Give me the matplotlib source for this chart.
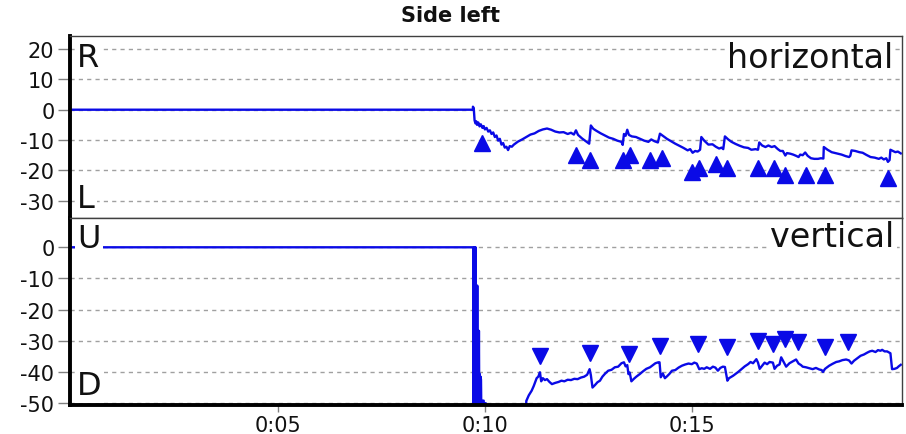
import matplotlib
matplotlib.use("Agg")
import matplotlib.pyplot as plt
from matplotlib.ticker import FixedLocator, FuncFormatter

# ---------------- data ----------------
title = "Side left"
x_ticks = [5, 10, 15]
top_yticks = [20, 10, 0, -10, -20, -30]
bot_yticks = [0, -10, -20, -30, -40, -50]

# horizontal trace (time in minutes, value)
h_t = [0, 9.71, 9.71, 9.73, 9.75, 9.77, 9.79, 9.81, 9.84, 9.87, 9.90, 9.94, 9.97, 10.00,
       10.04, 10.08, 10.12, 10.16, 10.20, 10.24, 10.28, 10.32, 10.36, 10.40, 10.44, 10.48,
       10.52, 10.56, 10.60, 10.65, 10.70, 10.80, 10.90, 11.00, 11.10, 11.20, 11.30, 11.40,
       11.50, 11.60, 11.70, 11.80, 11.90, 12.00, 12.08, 12.15, 12.20, 12.25, 12.35, 12.45,
       12.52, 12.56, 12.62, 12.70, 12.80, 12.90, 13.00, 13.10, 13.20, 13.30, 13.33, 13.36,
       13.40, 13.44, 13.48, 13.55, 13.65, 13.75, 13.85, 13.95, 14.02, 14.10, 14.18, 14.23,
       14.30, 14.40, 14.50, 14.60, 14.70, 14.80, 14.90, 14.96, 15.02, 15.08, 15.14, 15.20,
       15.23, 15.30, 15.40, 15.50, 15.58, 15.66, 15.72, 15.76, 15.80, 15.88, 15.96, 16.06,
       16.16, 16.26, 16.36, 16.44, 16.54, 16.60, 16.63, 16.70, 16.78, 16.85, 16.93, 17.00,
       17.08, 17.14, 17.20, 17.26, 17.30, 17.38, 17.45, 17.52, 17.58, 17.62, 17.68, 17.74,
       17.80, 17.88, 17.96, 18.05, 18.12, 18.18, 18.19, 18.28, 18.38, 18.50, 18.62, 18.72,
       18.80, 18.83, 18.86, 18.95, 19.05, 19.13, 19.22, 19.32, 19.42, 19.52, 19.58, 19.64,
       19.70, 19.74, 19.78, 19.80, 19.86, 19.92, 19.98, 20.05]
h_v = [0, 0, 1.0, 0.5, -3.5, -4.5, -3.8, -5.0, -4.2, -5.5, -4.8, -6.0, -5.4, -6.5,
       -6.0, -7.2, -6.8, -8.0, -7.5, -9.0, -8.5, -10.2, -9.6, -11.5, -11.0, -12.5,
       -12.2, -13.3, -12.0, -12.2, -11.5, -10.5, -9.8, -9.0, -8.2, -7.8, -7.0, -6.5,
       -6.2, -6.6, -7.2, -7.5, -7.4, -8.0, -7.6, -8.2, -6.8, -8.3, -9.5, -10.5,
       -11.2, -5.2, -6.3, -7.0, -7.8, -8.5, -9.2, -9.6, -10.2, -10.6, -11.6, -8.0,
       -8.6, -6.6, -8.3, -8.8, -9.0, -9.6, -10.2, -10.6, -9.8, -10.4, -10.8, -7.9,
       -8.6, -9.6, -10.4, -11.2, -11.9, -12.6, -13.4, -13.0, -14.2, -13.6, -13.8, -13.2,
       -9.0, -10.2, -11.5, -11.4, -12.2, -12.8, -12.5, -13.0, -8.8, -9.8, -10.6, -11.3,
       -11.9, -12.4, -12.6, -13.2, -13.0, -13.2, -10.8, -11.8, -12.3, -11.8, -12.3, -12.0,
       -13.0, -13.6, -13.6, -15.1, -14.3, -14.5, -14.8, -15.2, -15.6, -14.8, -15.0, -14.1,
       -15.2, -16.0, -16.2, -16.2, -16.0, -16.1, -12.3, -13.2, -14.0, -14.4, -14.8, -15.3,
       -15.6, -15.2, -13.4, -13.6, -14.0, -14.2, -14.9, -15.6, -15.8, -16.2, -15.8, -16.4,
       -16.0, -17.2, -16.6, -13.2, -13.6, -14.0, -13.8, -14.4]

# horizontal event markers
h_mark_t = [9.92, 12.20, 12.54, 13.34, 13.50, 13.99, 14.27, 15.00, 15.18, 15.58, 15.84,
            16.60, 16.99, 17.25, 17.75, 18.21, 19.74]
h_mark_v = [-11.0, -14.9, -16.5, -16.7, -15.0, -16.5, -16.0, -20.4, -19.2, -17.9, -19.1,
            -19.1, -19.1, -21.5, -21.5, -21.5, -22.5]

# vertical trace
v_t = [0, 9.72, 9.72, 9.735, 9.745, 9.755, 9.765, 9.775, 9.785, 9.795, 9.805, 9.815,
       9.825, 9.835, 9.845, 9.855, 9.865, 9.875, 9.885, 9.895, 9.905, 9.915, 9.95, 9.97,
       9.99, 10.02, 10.04, 10.99,
       11.00, 11.06, 11.13, 11.18, 11.21, 11.25, 11.29, 11.33, 11.36, 11.40, 11.45, 11.50,
       11.56, 11.62, 11.70, 11.78, 11.85, 11.92, 12.00, 12.08, 12.16, 12.24, 12.32, 12.40,
       12.47, 12.53, 12.56, 12.60, 12.66, 12.72, 12.78, 12.84, 12.90, 12.98, 13.06, 13.14,
       13.22, 13.30, 13.36, 13.40, 13.44, 13.47, 13.50, 13.54, 13.60, 13.66, 13.74, 13.82,
       13.90, 13.99, 14.06, 14.12, 14.19, 14.22, 14.25, 14.30, 14.35, 14.40, 14.46, 14.52,
       14.60, 14.68, 14.76, 14.84, 14.92, 15.00, 15.06, 15.12, 15.18, 15.24, 15.30, 15.36,
       15.44, 15.51, 15.57, 15.63, 15.69, 15.75, 15.80, 15.86, 15.90, 15.95, 16.00, 16.06,
       16.12, 16.20, 16.28, 16.36, 16.42, 16.48, 16.56, 16.60, 16.64, 16.70, 16.76, 16.82,
       16.88, 16.96, 17.00, 17.06, 17.12, 17.16, 17.22, 17.28, 17.36, 17.44, 17.52, 17.58,
       17.64, 17.68, 17.76, 17.84, 17.92, 18.00, 18.08, 18.14, 18.17, 18.22, 18.25, 18.32,
       18.40, 18.49, 18.56, 18.64, 18.73, 18.80, 18.86, 18.92, 19.00, 19.08, 19.16, 19.24,
       19.30, 19.36, 19.44, 19.50, 19.56, 19.60, 19.66, 19.72, 19.76, 19.80, 19.84, 19.90,
       19.96, 20.00, 20.05]
v_v = [0, 0, -55, 0, -55, 0, -55, 0, -55, -12.3, -55, -12.3,
       -55, -26.8, -55, -26.8, -55, -40.7, -55, -41.5, -42.5, -55, -49.2, -49.2,
       -55, -50.0, -55, -55,
       -49.3, -47.5, -46.0, -44.5, -43.4, -42.0, -41.5, -40.1, -43.0, -42.0, -42.6, -42.3,
       -43.2, -43.9, -43.5, -43.2, -42.8, -43.0, -42.5, -42.6, -42.2, -42.3, -41.8, -41.5,
       -40.9, -39.1, -41.0, -45.0, -44.2, -43.3, -42.8, -41.5, -40.6, -39.6, -39.3, -38.5,
       -38.3, -37.2, -36.9, -38.2, -37.8, -40.7, -40.2, -43.0, -42.2, -41.5, -40.7, -39.8,
       -39.0, -38.5, -37.8, -37.2, -36.9, -36.9, -41.7, -40.5, -42.0, -41.4, -40.6, -39.6,
       -39.4, -38.6, -38.0, -37.6, -37.3, -37.5, -37.0, -37.3, -39.1, -38.8, -39.0, -38.5,
       -39.0, -38.3, -38.6, -39.6, -38.7, -38.3, -38.4, -42.8, -42.0, -41.6, -41.2, -40.6,
       -40.0, -39.1, -38.2, -37.5, -36.8, -37.2, -35.9, -37.0, -39.0, -38.0, -37.0, -37.5,
       -36.8, -37.0, -39.0, -38.0, -37.6, -35.3, -36.8, -38.3, -37.2, -36.6, -36.0, -37.3,
       -37.8, -38.3, -38.5, -38.8, -39.1, -38.7, -39.2, -39.4, -40.0, -39.0, -38.7, -38.0,
       -37.4, -36.8, -36.6, -36.2, -36.0, -36.3, -37.3, -36.4, -35.6, -34.8, -34.4, -33.8,
       -33.4, -33.2, -33.6, -33.0, -33.2, -32.9, -33.4, -33.4, -33.7, -34.0, -39.1, -39.0,
       -38.7, -38.2, -37.7]

# vertical event markers
v_mark_t = [11.33, 12.54, 13.49, 14.24, 15.14, 15.84, 16.60, 16.96, 17.25, 17.57, 18.21, 18.78]
v_mark_v = [-34.8, -34.0, -34.3, -31.6, -31.0, -32.1, -30.0, -31.0, -29.4, -30.5, -32.1, -30.3]

# ---------------- styling ----------------
plt.rcParams['font.family'] = ['DejaVu Sans']
BLUE = '#0a0ae6'
GRID = '#a0a0a0'
W, H = 906, 435

fig = plt.figure(figsize=(W / 100, H / 100), dpi=100)
left = 69.7 / W
width = (902 - 69.7) / W
ax1 = fig.add_axes([left, 1 - 219 / H, width, (219 - 37) / H])
ax2 = fig.add_axes([left, 1 - 406 / H, width, (406 - 219) / H])

xlim = (-0.035, 20.08)


def style(ax, yticks, ylim, bottom_thick):
    ax.set_xlim(*xlim)
    ax.set_ylim(*ylim)
    ax.yaxis.set_major_locator(FixedLocator(yticks))
    ax.set_yticklabels([str(v) for v in yticks])
    for yv in yticks:
        ax.axhline(yv, color=GRID, lw=1.0, ls=(0, (3, 3)), zorder=1)
    ax.tick_params(axis='y', which='major', length=9, width=1, color='#808080',
                   labelsize=15, pad=2, labelcolor='#111111')
    for s in ax.spines.values():
        s.set_zorder(10)
    ax.spines['left'].set_linewidth(2.8)
    ax.spines['left'].set_color('black')
    for s in ('top', 'right'):
        ax.spines[s].set_linewidth(1.0)
        ax.spines[s].set_color('#404040')
    if bottom_thick:
        ax.spines['bottom'].set_linewidth(2.8)
        ax.spines['bottom'].set_color('black')
        ax.xaxis.set_major_locator(FixedLocator(x_ticks))
        ax.xaxis.set_major_formatter(FuncFormatter(lambda v, p: f"0:{int(round(v)):02d}"))
        ax.tick_params(axis='x', length=5, width=1, color='#808080', labelsize=15, pad=2,
                       labelcolor='#111111')
    else:
        ax.spines['bottom'].set_linewidth(1.0)
        ax.spines['bottom'].set_color('#404040')
        ax.set_xticks([])


style(ax1, top_yticks, (-35.7, 24.3), False)
style(ax2, bot_yticks, (-50.6, 9.4), True)

ax1.plot(h_t, h_v, color=BLUE, lw=1.7, zorder=3)
ax1.plot(h_mark_t, h_mark_v, ls='none', marker='^', ms=11, color=BLUE, mec=BLUE, zorder=4)
ax2.plot(v_t, v_v, color=BLUE, lw=1.7, zorder=3)
ax2.plot(v_mark_t, v_mark_v, ls='none', marker='v', ms=11, color=BLUE, mec=BLUE, zorder=4)

box = dict(facecolor='white', edgecolor='none', pad=1.5)
kw = dict(fontsize=23, color='#111111', zorder=6, bbox=box, va='baseline')
ax1.text(0.009, 0.835, 'R', transform=ax1.transAxes, ha='left', **kw)
ax1.text(0.009, 0.06, 'L', transform=ax1.transAxes, ha='left', **kw)
ax2.text(0.009, 0.845, 'U', transform=ax2.transAxes, ha='left', **kw)
ax2.text(0.009, 0.059, 'D', transform=ax2.transAxes, ha='left', **kw)
kw2 = dict(fontsize=24, color='#111111', zorder=6, bbox=box, va='baseline', ha='right')
ax1.text(0.989, 0.83, 'horizontal', transform=ax1.transAxes, **kw2)
ax2.text(0.991, 0.85, 'vertical', transform=ax2.transAxes, **kw2)

fig.text(0.497, 1 - 16.5 / H, title, ha='center', va='center', fontsize=15,
         fontweight='bold', color='#111111')

fig.savefig('out.png', dpi=100, facecolor='white')
